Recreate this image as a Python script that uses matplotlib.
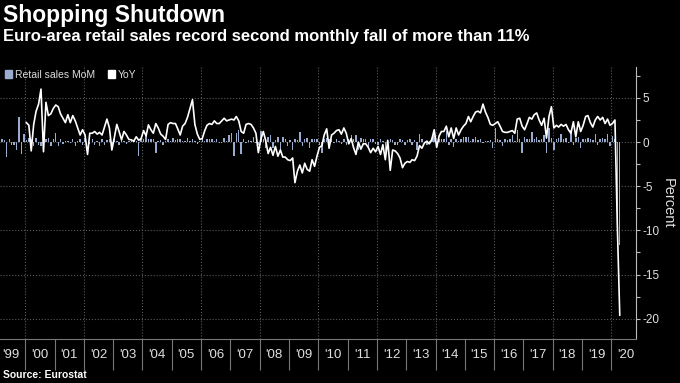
"""
euro-area retail sales : variation mensuelle (barres) et annuelle (ligne)
"""
import pandas as pd
import matplotlib
matplotlib.use("Agg")
import matplotlib.pyplot as plt
import matplotlib.dates as mdates
from matplotlib.ticker import MultipleLocator
from matplotlib.patches import Patch

plt.rcParams['font.family'] = ['Liberation Sans', 'DejaVu Sans']
plt.rcParams['axes.unicode_minus'] = False

# variation mensuelle, fev 1999 -> avr 2020
mom = [1.2, 0.3, 0.2, -1.7, 0.3, -0.3, -0.3, -0.9, 2.8, -1.4, 0.9,
       0.2, 0.5, 0.3, -0.5, 0.5, -0.3, -0.5, 0.5, 0.3, 0.5, -0.5, 0.3,
       1.0, -0.5, 0.3, -0.2, 0.1, 0.1, -0.1, 0.3, -0.5, 0.1, 0.3, -0.3,
       0.5, 0.0, -0.2, 0.3, -0.3, 0.1, -0.5, 0.3, -0.3, 0.2, 0.3, -0.3,
       0.3, 0.1, -0.3, 0.2, 0.1, -0.2, 0.1, 0.1, 0.2, 0.1, -1.6, 0.3,
       0.3, 0.8, 0.3, 0.4, 0.3, -1.2, 0.1, 0.2, -0.3, 0.1, 0.3, 0.1,
       0.5, 0.2, 0.4, 0.3, 0.1, 0.1, 0.5, 0.1, 0.3, 0.1, -0.2, 0.1,
       0.3, 0.1, 0.3, 0.4, 0.3, 0.1, 0.3, -0.1, -0.1, 0.5, 0.1, 0.8,
       1.0, -1.6, 1.0, 1.4, -1.4, 0.3, -0.1, 0.2, 0.1, 0.6, -0.1, -0.3,
       1.2, 0.3, -0.7, 0.6, 0.8, -0.7, 0.2, 0.6, -0.9, 0.6, 0.4, -0.4,
       0.2, -0.9, 0.3, 0.2, 1.1, -0.5, 0.4, 0.5, -0.7, 0.3, 0.4, 0.3,
       -0.3, -1.2, 0.4, 0.5, 0.3, 0.4, -0.1, 0.3, 0.1, -0.2, 0.4, -0.3,
       0.3, 0.8, 0.3, 0.8, -0.9, 0.5, 0.3, 0.4, -0.7, 0.3, 0.4, -0.2,
       -0.3, 0.3, 0.1, -1.2, 0.1, 0.4, 0.2, -0.3, -0.3, 0.3, 0.2, -0.3,
       0.2, 0.3, -0.3, 0.2, -0.9, 0.9, 0.4, -0.1, -0.3, 0.1, 0.5, 1.3,
       -0.7, 0.4, 0.3, 0.4, 1.2, -0.3, 0.4, -0.6, 0.4, 0.1, 0.3, 0.6,
       0.6, 0.6, 0.1, 0.3, 0.6, 0.2, 0.3, -0.1, 0.1, 0.1, 0.2, -0.7,
       1.6, 0.3, 0.2, -0.5, 0.4, 0.2, 0.3, 0.8, 0.1, 1.4, 0.3, -1.2,
       0.6, 0.3, 0.3, 1.1, 0.3, 0.6, 0.2, 0.3, 0.8, -1.2, 1.6, 0.5,
       -0.9, 0.3, 0.5, 0.9, 0.3, 0.5, -0.1, 1.4, -0.3, 0.5, 0.6, -0.7,
       0.3, 0.3, 0.5, 0.3, 0.2, 0.9, -0.3, 0.3, 0.5, 0.3, 0.9, -0.5,
       0.7, 0.3, -11.2, -11.7]

# variation annuelle, jan 2000 -> avr 2020
yoy = [2.2, 1.9, -1.0, 2.0, 3.5, 4.3, 6.0, -1.1, 4.5, 3.0, 3.2, 3.8,
       4.2, 4.0, 3.2, 2.7, 2.2, 3.1, 2.2, 3.0, 2.4, 1.6, 0.8, 1.4,
       0.8, -1.4, 1.0, 1.0, 1.2, 0.9, 1.1, 0.8, 1.7, 2.6, 1.6, -0.9,
       0.5, 2.0, 1.2, 0.25, 1.2, 0.8, 0.3, 0.25, 0.1, 0.6, 0.2, 0.4,
       1.3, 0.7, 1.95, 1.4, 1.0, 2.1, 1.6, 0.9, 0.65, 0.3, 2.0, 2.2,
       2.1, 2.1, 1.5, 0.8, 1.8, 2.1, 2.8, 3.8, 4.8, 2.0, 0.9, 0.3,
       0.4, 1.3, 1.9, 2.1, 2.0, 2.4, 2.1, 2.1, 2.4, 2.7, 2.4, 2.5,
       2.6, 2.5, 2.9, 2.4, 1.2, 1.0, 2.0, 2.1, 2.0, 1.6, 1.0, -1.2,
       0.3, 1.2, 0.2, -1.3, -0.6, -1.5, -0.5, -1.6, -0.9, -1.7, -1.7, -2.0,
       -2.1, -1.8, -4.6, -3.3, -2.6, -3.5, -2.4, -3.1, -3.3, -2.0, -2.75, -1.6,
       -0.6, -0.4, 0.8, 1.5, -0.7, 0.8, 1.0, 1.3, 1.4, 0.9, 1.6, 1.0,
       -0.2, 0.4, -0.6, -1.4, 0.0, -0.8, -0.2, -0.2, -0.6, -1.2, -0.7, -1.1,
       -0.5, -1.4, -0.3, -2.0, 0.2, -3.2, -0.9, -1.0, -1.3, -1.8, -2.9, -2.4,
       -2.2, -2.3, -2.0, -2.1, -1.6, -0.4, -0.7, -0.1, 0.1, -0.2, 0.3, 1.4,
       -0.6, 0.7, 1.2, 1.2, 1.8, 0.6, 1.6, 0.4, 1.6, 0.8, 1.4, 1.8,
       2.1, 2.9, 2.3, 2.9, 3.4, 3.5, 3.3, 4.3, 3.4, 2.8, 2.0, 1.9,
       2.1, 2.3, 1.8, 1.2, 1.1, 1.1, 1.2, 1.3, 1.0, 2.6, 2.7, 1.8,
       1.4, 2.1, 2.8, 2.6, 3.1, 3.3, 2.5, 1.9, 2.7, 0.45, 2.9, 4.0,
       1.6, 1.9, 1.7, 2.0, 1.8, 2.0, 1.4, 1.0, 2.3, 0.6, 2.3, 1.2,
       1.9, 2.9, 3.0, 2.2, 1.7, 2.5, 2.9, 2.5, 2.8, 2.1, 2.6, 1.9,
       2.1, 2.5, -9.2, -19.6]

yticks = [5, 0, -5, -10, -15, -20]

mois_mom = pd.date_range("1999-02-01", periods=len(mom), freq="MS") + pd.Timedelta(days=14)
mois_yoy = pd.date_range("2000-01-01", periods=len(yoy), freq="MS") + pd.Timedelta(days=14)

bleu = '#9aabd0'
gris_grille = '#5a5a5a'

fig = plt.figure(figsize=(6.8, 3.83), dpi=100, facecolor='black')
ax = fig.add_axes([0.0, 0.115, 0.935, 0.71])
ax.set_facecolor('black')

ax.bar(mois_mom, mom, width=18, color=bleu, zorder=2)
ax.plot(mois_yoy, yoy, color='white', lw=1.2, zorder=3)

ax.set_ylim(-22.3, 8.5)
ax.set_xlim(pd.Timestamp('1999-02-20'), pd.Timestamp('2020-11-01'))

# grille pointillee : horizontale tous les 5, verticale un an sur deux
ax.yaxis.grid(True, which='major', ls=':', color=gris_grille, lw=0.8)
for an in range(2000, 2021, 2):
    ax.axvline(pd.Timestamp(f'{an}-01-01'), ls=':', color=gris_grille, lw=0.8, zorder=1)

for cote in ['top', 'left']:
    ax.spines[cote].set_visible(False)
ax.spines['right'].set_color('#bbbbbb')
ax.spines['bottom'].set_color('#777777')

# axe y a droite
ax.yaxis.tick_right()
ax.yaxis.set_label_position('right')
ax.set_yticks(yticks)
ax.yaxis.set_minor_locator(MultipleLocator(2.5))
ax.tick_params(axis='y', which='both', colors='#bbbbbb', length=3, width=0.8, pad=2,
               labelsize=8.5, labelcolor='#e0e0e0')
ax.set_ylabel('Percent', rotation=270, color='#e0e0e0', fontsize=10.5, labelpad=11)

# axe x : separateurs d annees longs, etiquettes au milieu de l annee
ax.xaxis.set_major_locator(mdates.YearLocator(1))
ax.xaxis.set_major_formatter(plt.NullFormatter())
ax.xaxis.set_minor_locator(mdates.MonthLocator(bymonth=7, bymonthday=1))
ax.xaxis.set_minor_formatter(mdates.DateFormatter("'%y"))
ax.tick_params(axis='x', which='major', length=22, width=0.8, color='#777777')
ax.tick_params(axis='x', which='minor', length=0, pad=7, labelsize=9.5, labelcolor='#e0e0e0')

fig.text(0.004, 0.99, 'Shopping Shutdown', fontsize=16.5, fontweight='bold',
         color='white', va='top')
fig.text(0.004, 0.925, 'Euro-area retail sales record second monthly fall of more than 11%',
         fontsize=12, fontweight='bold', color='white', va='top')

fig.legend(handles=[Patch(color=bleu, label='Retail sales MoM'),
                    Patch(color='white', label='YoY')],
           loc='center left', bbox_to_anchor=(0.007, 0.805), ncol=2, frameon=False,
           fontsize=7.5, labelcolor='#dddddd', handlelength=0.7, handleheight=0.7,
           handletextpad=0.3, columnspacing=1.2, borderpad=0, borderaxespad=0)

fig.text(0.004, 0.008, 'Source: Eurostat', fontsize=7.5, fontweight='bold',
         color='white', va='bottom')

fig.savefig('out.png', dpi=100, facecolor='black')
